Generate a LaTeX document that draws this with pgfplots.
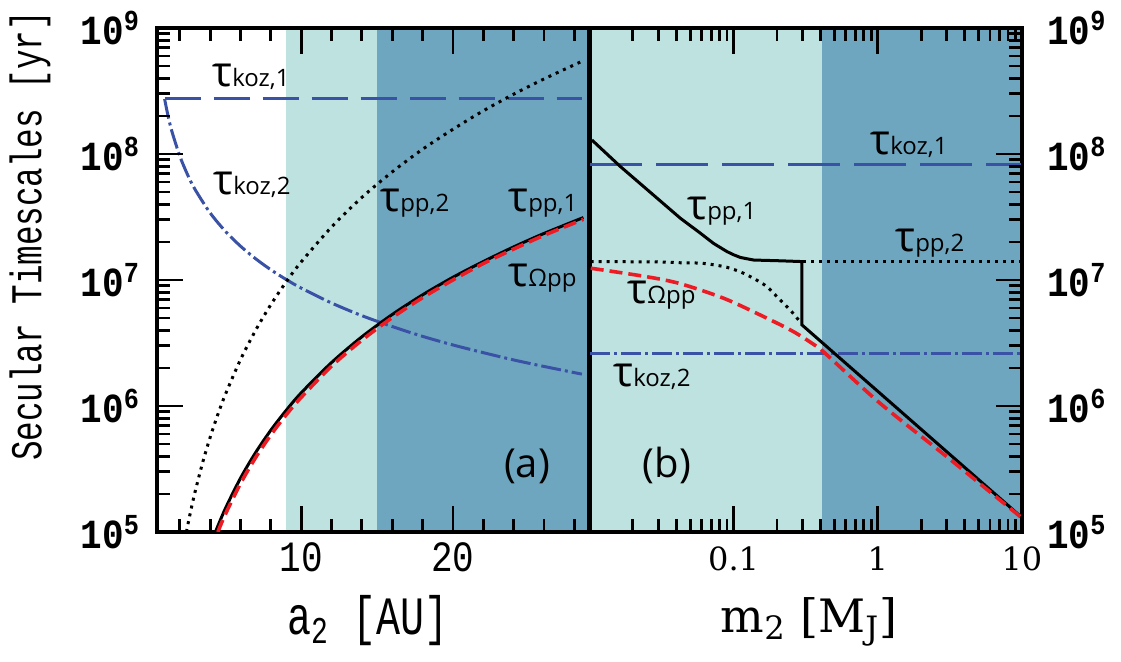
\documentclass[border=0pt]{standalone}
\usepackage{fontspec}
\usepackage{graphicx}
\usepackage{pgfplots}
\pgfplotsset{compat=1.18}
\newfontfamily\mono{Liberation Mono}
\newfontfamily\sans{Open Sans}
\newfontfamily\serifnum{DejaVu Serif}
\definecolor{lteal}{RGB}{189,226,224}
\definecolor{dteal}{RGB}{111,166,191}
\definecolor{kblue}{RGB}{58,82,166}
\definecolor{kred}{RGB}{237,28,36}
\newcommand{\tl}[2]{{\sans\fontsize{21}{21}\selectfont #1}{\sans\fontsize{12}{12}\selectfont #2}}
\newcommand{\ytl}[1]{\scalebox{1}[1.15]{10\textsuperscript{#1}}}
\tikzset{
  kdash/.style={kblue, line width=1.5pt},
  kdd/.style={kblue, line width=1.5pt, dash pattern=on 10pt off 2pt on 1.5pt off 2pt},
  pdot/.style={black, line width=1.5pt, dash pattern=on 1.5pt off 2.5pt},
  psol/.style={black, line width=1.5pt},
  pred/.style={kred, line width=1.8pt, dash pattern=on 6.5pt off 3pt},
  tk/.style={black, line width=1.4pt},
}
\begin{document}
\begin{tikzpicture}
\path[use as bounding box] (0,0) rectangle (560.5pt,-331pt);
% ---------------- shading (background axes) ----------------
\begin{axis}[scale only axis, anchor=north west, height=252pt,
  at={(78.5pt,-14pt)}, width=216.25pt, hide axis,
  ymode=log, ymin=1e5, ymax=1e9, xmin=0.5, xmax=29]
\addplot[draw=none, fill=lteal] coordinates {(9,1e5)(9,1e9)(15,1e9)(15,1e5)} -- cycle;
\addplot[draw=none, fill=dteal] coordinates {(15,1e5)(15,1e9)(29,1e9)(29,1e5)} -- cycle;
\end{axis}
\begin{axis}[scale only axis, anchor=north west, height=252pt,
  at={(294.75pt,-14pt)}, width=216.25pt, hide axis,
  ymode=log, ymin=1e5, ymax=1e9, xmode=log, xmin=0.01, xmax=10]
\addplot[draw=none, fill=lteal] coordinates {(0.01,1e5)(0.01,1e9)(0.41,1e9)(0.41,1e5)} -- cycle;
\addplot[draw=none, fill=dteal] coordinates {(0.41,1e5)(0.41,1e9)(10,1e9)(10,1e5)} -- cycle;
\end{axis}
% ---------------- left panel ----------------
\begin{axis}[scale only axis, anchor=north west, height=252pt,
  at={(78.5pt,-14pt)}, width=216.25pt,
  ymode=log, ymin=1e5, ymax=1e9,
  ytick={1e5,1e6,1e7,1e8,1e9},
  yticklabels={\ytl{5},\ytl{6},\ytl{7},\ytl{8},\ytl{9}},
  axis line style={line width=2pt},
  xtick pos=both, ytick pos=left,
  yticklabel style={font=\mono\bfseries\fontsize{18}{18}\selectfont, xshift=-5pt},
  xmin=0.5, xmax=29,
  xtick={10,20}, xticklabels={\scalebox{1}[1.2]{10},\scalebox{1}[1.2]{20}},
  xticklabel style={font=\mono\fontsize{18}{18}\selectfont, yshift=-2pt},
]
% tau_koz,1
\addplot[kdash, dash pattern=on 18pt off 6.5pt] coordinates {(1,2.74e8)(28.5,2.74e8)};
% tau_koz,2
\addplot[kdd, smooth] coordinates {(1,2.73e8)(1.25,1.953e8)(1.5,1.486e8)(2,9.65e7)(2.5,6.91e7)(3,5.25e7)(4,3.41e7)(5,2.44e7)(6,1.857e7)(7,1.474e7)(8,1.206e7)(9,1.011e7)(10,8.63e6)(12,6.57e6)(14,5.21e6)(16,4.27e6)(18,3.57e6)(20,3.05e6)(22,2.65e6)(24,2.32e6)(26,2.06e6)(28.5,1.79e6)};
% tau_pp,2
\addplot[pdot, smooth] coordinates {(2.44,1.0e5)(2.6,1.25e5)(2.8,1.62e5)(3,2.06e5)(3.5,3.53e5)(4,5.63e5)(4.5,8.5e5)(5,1.23e6)(6,2.33e6)(7,3.99e6)(8,6.37e6)(9.1,1e7)(10,1.39e7)(12,2.63e7)(14,4.52e7)(16,7.21e7)(18,1.09e8)(20,1.57e8)(22,2.2e8)(24,2.98e8)(26,3.94e8)(28.5,5.44e8)};
% tau_pp,1
\addplot[psol, smooth] coordinates {(4.35,1e5)(5,1.53e5)(6,2.67e5)(7,4.27e5)(8,6.42e5)(9,9.19e5)(10,1.27e6)(12,2.21e6)(14,3.54e6)(16,5.32e6)(18,7.62e6)(20,1.05e7)(22,1.40e7)(24,1.83e7)(26,2.34e7)(28.6,3.13e7)};
% tau_Omega pp
\addplot[pred, smooth] coordinates {(4.51,1e5)(5,1.38e5)(6,2.42e5)(7,3.90e5)(8,5.89e5)(9,8.48e5)(10,1.17e6)(12,2.07e6)(14,3.33e6)(16,5.03e6)(18,7.24e6)(20,1.0e7)(22,1.35e7)(24,1.76e7)(26,2.26e7)(28.6,3.03e7)};
% tick marks (inward)
\pgfplotsinvokeforeach{1e6,1e7,1e8}{\addplot[tk] coordinates {(0.5,#1)(2.21,#1)};}
\pgfplotsinvokeforeach{2e5,3e5,4e5,5e5,6e5,7e5,8e5,9e5,2e6,3e6,4e6,5e6,6e6,7e6,8e6,9e6,2e7,3e7,4e7,5e7,6e7,7e7,8e7,9e7,2e8,3e8,4e8,5e8,6e8,7e8,8e8,9e8}{\addplot[tk] coordinates {(0.5,#1)(1.36,#1)};}
\pgfplotsinvokeforeach{10,20}{\addplot[tk] coordinates {(#1,1e5)(#1,1.61e5)};\addplot[tk] coordinates {(#1,1e9)(#1,6.22e8)};}
\pgfplotsinvokeforeach{2,4,6,8,12,14,16,18,22,24,26,28}{\addplot[tk] coordinates {(#1,1e5)(#1,1.27e5)};\addplot[tk] coordinates {(#1,1e9)(#1,7.89e8)};}
\end{axis}
% ---------------- right panel ----------------
\begin{axis}[scale only axis, anchor=north west, height=252pt,
  at={(294.75pt,-14pt)}, width=216.25pt,
  ymode=log, ymin=1e5, ymax=1e9,
  ytick={1e5,1e6,1e7,1e8,1e9},
  yticklabels={\ytl{5},\ytl{6},\ytl{7},\ytl{8},\ytl{9}},
  axis line style={line width=2pt},
  xtick pos=both, ytick pos=right, yticklabel pos=right,
  yticklabel style={font=\mono\bfseries\fontsize{18}{18}\selectfont, xshift=9pt},
  xmode=log, xmin=0.01, xmax=10,
  xtick={0.01,0.1,1,10}, xticklabels={,0.1,1,10},
  xticklabel style={font=\serifnum\fontsize{16}{16}\selectfont, yshift=-4pt},
]
% tau_koz,1
\addplot[kdash, dash pattern=on 26pt off 7pt] coordinates {(0.0101,8.18e7)(9.9,8.18e7)};
% tau_koz,2
\addplot[kdd] coordinates {(0.0101,2.59e6)(10,2.59e6)};
% tau_pp,2 (two branches)
\addplot[pdot, smooth] coordinates {(0.0102,1.40e7)(0.03,1.39e7)(0.0427,1.37e7)(0.0588,1.36e7)(0.0726,1.32e7)(0.0899,1.26e7)(0.1112,1.16e7)(0.1375,1.03e7)(0.170,8.85e6)(0.2104,6.93e6)(0.2466,5.78e6)(0.2818,4.82e6)};
\addplot[pdot] coordinates {(0.305,1.40e7)(10,1.40e7)};
% tau_pp,1
\addplot[psol] coordinates {(0.0104,1.29e8)(0.0164,7.94e7)(0.0427,3.09e7)(0.0588,2.35e7)(0.0726,1.95e7)(0.0899,1.68e7)(0.1,1.585e7)(0.1112,1.51e7)(0.125,1.47e7)(0.1375,1.44e7)(0.21,1.42e7)(0.2977,1.40e7)(0.2977,4.40e6)(10,1.30e5)};
% tau_Omega pp
\addplot[pred, smooth] coordinates {(0.0102,1.24e7)(0.0251,1.06e7)(0.0428,9.33e6)(0.0853,7.16e6)(0.1614,5.12e6)(0.260,3.89e6)(0.378,2.96e6)(0.444,2.54e6)(1.037,1.05e6)(3.006,3.96e5)(10,1.29e5)};
% tick marks (inward)
\pgfplotsinvokeforeach{1e6,1e7,1e8}{\addplot[tk] coordinates {(6.6,#1)(10,#1)};}
\pgfplotsinvokeforeach{2e5,3e5,4e5,5e5,6e5,7e5,8e5,9e5,2e6,3e6,4e6,5e6,6e6,7e6,8e6,9e6,2e7,3e7,4e7,5e7,6e7,7e7,8e7,9e7,2e8,3e8,4e8,5e8,6e8,7e8,8e8,9e8}{\addplot[tk] coordinates {(8.13,#1)(10,#1)};}
\pgfplotsinvokeforeach{0.1,1}{\addplot[tk] coordinates {(#1,1e5)(#1,1.61e5)};\addplot[tk] coordinates {(#1,1e9)(#1,6.22e8)};}
\pgfplotsinvokeforeach{0.02,0.03,0.04,0.05,0.06,0.07,0.08,0.09,0.2,0.3,0.4,0.5,0.6,0.7,0.8,0.9,2,3,4,5,6,7,8,9}{\addplot[tk] coordinates {(#1,1e5)(#1,1.27e5)};\addplot[tk] coordinates {(#1,1e9)(#1,7.89e8)};}
\end{axis}
% ---------------- labels ----------------
\begin{scope}[every node/.style={inner sep=0pt, anchor=base west}]
\node at (106pt,-43.5pt) {\tl{τ}{koz,1}};
\node at (106.5pt,-97.5pt) {\tl{τ}{koz,2}};
\node at (190pt,-105.8pt) {\tl{τ}{pp,2}};
\node at (254pt,-106pt) {\tl{τ}{pp,1}};
\node at (254pt,-143.3pt) {\tl{τ}{Ωpp}};
\node at (435pt,-77.5pt) {\tl{τ}{koz,1}};
\node at (343.5pt,-110pt) {\tl{τ}{pp,1}};
\node at (447.5pt,-125.8pt) {\tl{τ}{pp,2}};
\node at (313.5pt,-152pt) {\tl{τ}{Ωpp}};
\node at (306.5pt,-193.3pt) {\tl{τ}{koz,2}};
\end{scope}
\node[inner sep=0pt] at (263.5pt,-233pt) {\sans\fontsize{20}{20}\selectfont (a)};
\node[inner sep=0pt] at (333.5pt,-232.5pt) {\sans\fontsize{20}{20}\selectfont (b)};
\node[inner sep=0pt] at (184pt,-310.5pt) {\scalebox{1}[1.35]{\mono\fontsize{20}{20}\selectfont a\textsubscript{2} [AU]}};
\node[inner sep=0pt] at (404.5pt,-311pt) {\serifnum\fontsize{23}{23}\selectfont m\textsubscript{2} [M\textsubscript{J}]};
\node[inner sep=0pt, rotate=90] at (15pt,-118pt) {\scalebox{1}[1.35]{\mono\fontsize{16.3}{16.3}\selectfont Secular Timescales [yr]}};
\end{tikzpicture}
\end{document}
